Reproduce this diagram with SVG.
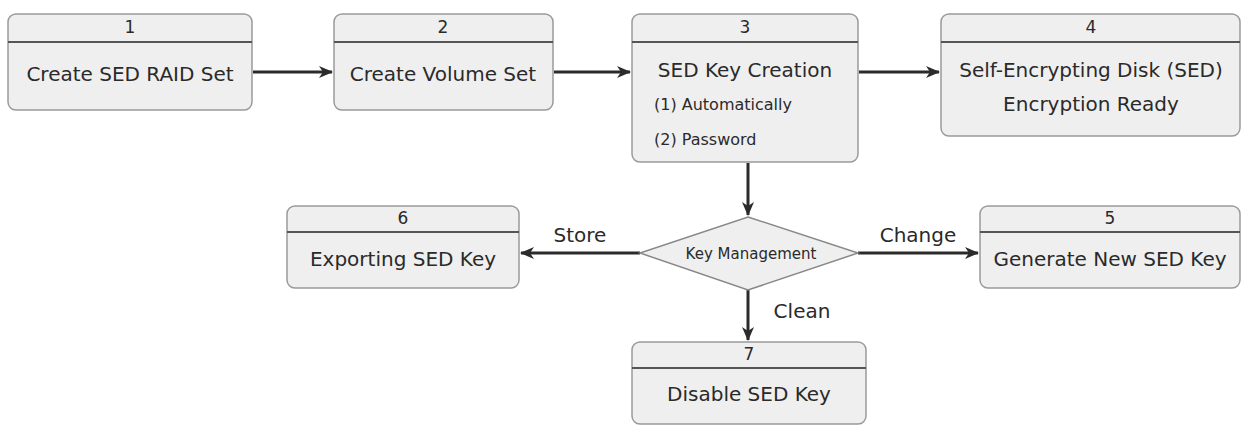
<svg xmlns="http://www.w3.org/2000/svg" width="1248" height="434" viewBox="0 0 1248 434">
<defs>
<marker id="ah" markerWidth="14" markerHeight="12" refX="13" refY="6" orient="auto" markerUnits="userSpaceOnUse">
<path d="M0,0 L14,6 L0,12 L4,6 Z" fill="#2b2b2b"/>
</marker>
<style>
.box{fill:#efefef;stroke:#9a9a9a;stroke-width:1.5}
.hdr{stroke:#555;stroke-width:2}
.t{font-family:"DejaVu Sans",Verdana,sans-serif;fill:#2a2a2a;text-anchor:middle}
.num{font-size:17px}
.lbl{font-size:20px}
.sm{font-size:16px;text-anchor:start}
.conn{stroke:#2b2b2b;stroke-width:3;fill:none}
.dia{fill:#efefef;stroke:#888;stroke-width:1.5}
</style>
</defs>
<rect width="1248" height="434" fill="#fff"/>
<g id="connectors">
<line class="conn" x1="253" y1="72" x2="332" y2="72" marker-end="url(#ah)"/>
<line class="conn" x1="554" y1="72" x2="630" y2="72" marker-end="url(#ah)"/>
<line class="conn" x1="859" y1="72" x2="939" y2="72" marker-end="url(#ah)"/>
<line class="conn" x1="748" y1="163" x2="748" y2="215" marker-end="url(#ah)"/>
<line class="conn" x1="640" y1="253" x2="521" y2="253" marker-end="url(#ah)"/>
<line class="conn" x1="858" y1="253" x2="978" y2="253" marker-end="url(#ah)"/>
<line class="conn" x1="748" y1="290" x2="748" y2="340" marker-end="url(#ah)"/>
<text class="t lbl" x="580" y="242">Store</text>
<text class="t lbl" x="918" y="242">Change</text>
<text class="t lbl" x="802" y="318">Clean</text>
</g>
<g id="node1">
<rect class="box" x="8" y="14" width="244" height="96" rx="8"/>
<line class="hdr" x1="8" y1="42" x2="252" y2="42"/>
<text class="t num" x="130" y="33">1</text>
<text class="t lbl" x="130" y="81">Create SED RAID Set</text>
</g>
<g id="node2">
<rect class="box" x="334" y="14" width="219" height="96" rx="8"/>
<line class="hdr" x1="334" y1="42" x2="553" y2="42"/>
<text class="t num" x="443" y="33">2</text>
<text class="t lbl" x="443" y="81">Create Volume Set</text>
</g>
<g id="node3">
<rect class="box" x="632" y="14" width="226" height="148" rx="8"/>
<line class="hdr" x1="632" y1="42" x2="858" y2="42"/>
<text class="t num" x="745" y="33">3</text>
<text class="t lbl" x="745" y="77">SED Key Creation</text>
<text class="t sm" x="654" y="110">(1) Automatically</text>
<text class="t sm" x="654" y="145">(2) Password</text>
</g>
<g id="node4">
<rect class="box" x="941" y="14" width="299" height="122" rx="8"/>
<line class="hdr" x1="941" y1="42" x2="1240" y2="42"/>
<text class="t num" x="1091" y="33">4</text>
<text class="t lbl" x="1091" y="77">Self-Encrypting Disk (SED)</text>
<text class="t lbl" x="1091" y="111">Encryption Ready</text>
</g>
<g id="decision">
<polygon class="dia" points="748,217 858,253 748,290 640,253"/>
<text class="t" x="751" y="259" font-size="15">Key Management</text>
</g>
<g id="node6">
<rect class="box" x="287" y="206" width="232" height="82" rx="8"/>
<line class="hdr" x1="287" y1="232" x2="519" y2="232"/>
<text class="t num" x="403" y="224">6</text>
<text class="t lbl" x="403" y="266">Exporting SED Key</text>
</g>
<g id="node5">
<rect class="box" x="980" y="206" width="260" height="82" rx="8"/>
<line class="hdr" x1="980" y1="232" x2="1240" y2="232"/>
<text class="t num" x="1110" y="224">5</text>
<text class="t lbl" x="1110" y="266">Generate New SED Key</text>
</g>
<g id="node7">
<rect class="box" x="632" y="342" width="234" height="82" rx="8"/>
<line class="hdr" x1="632" y1="368" x2="866" y2="368"/>
<text class="t num" x="749" y="360">7</text>
<text class="t lbl" x="749" y="401">Disable SED Key</text>
</g>
</svg>
